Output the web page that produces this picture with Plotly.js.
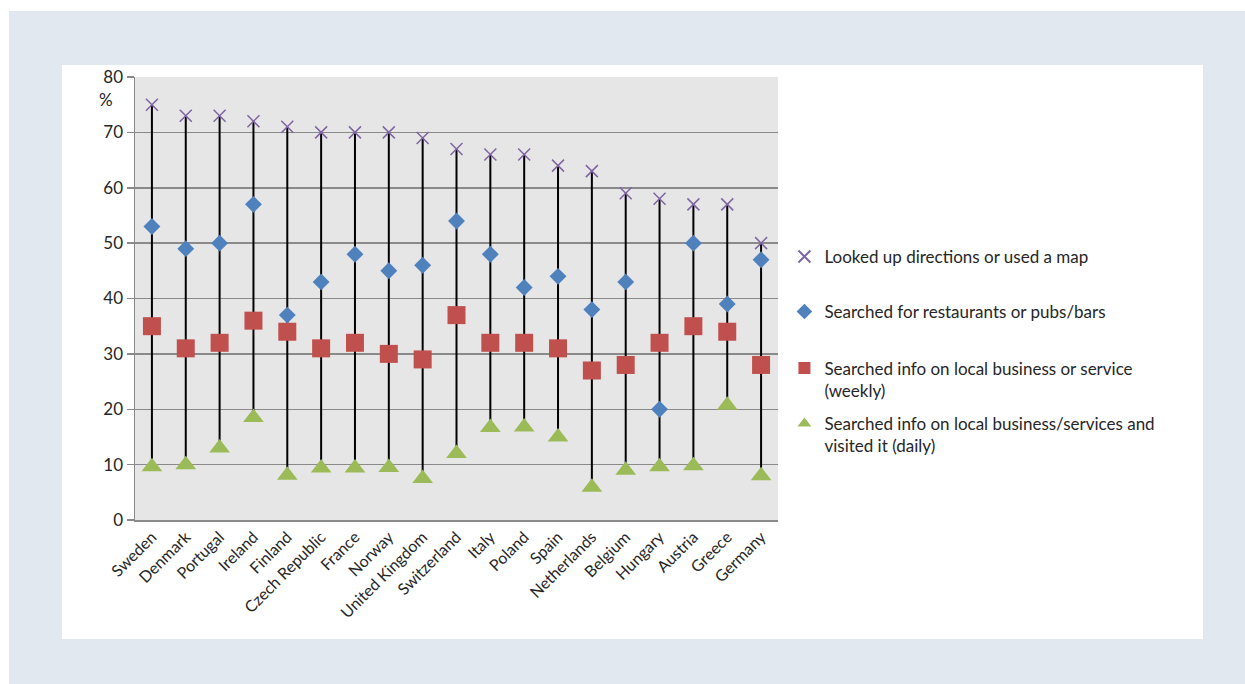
<!DOCTYPE html>
<html>
<head>
<meta charset="utf-8">
<script src="https://cdn.plot.ly/plotly-3.0.1.min.js"></script>
<style>
  html, body { margin: 0; padding: 0; background: #ffffff; }
  #outer { position: absolute; left: 9px; top: 11px; width: 1236px; height: 673px; background: #e1e8f0; }
  #panel { position: absolute; left: 62px; top: 65px; width: 1141px; height: 574px; background: #ffffff; }
  #chart { position: absolute; left: 0; top: 0; width: 1245px; height: 684px; }
</style>
</head>
<body>
<div id="outer"></div>
<div id="panel"></div>
<div id="chart"></div>
<script>
const countries = ["Sweden","Denmark","Portugal","Ireland","Finland","Czech Republic","France","Norway","United Kingdom","Switzerland","Italy","Poland","Spain","Netherlands","Belgium","Hungary","Austria","Greece","Germany"];
const mapDirections = [75,73,73,72,71,70,70,70,69,67,66,66,64,63,59,58,57,57,50];
const restaurants   = [53,49,50,57,37,43,48,45,46,54,48,42,44,38,43,20,50,39,47];
const localWeekly   = [35,31,32,36,34,31,32,30,29,37,32,32,31,27,28,32,35,34,28];
const localVisited  = [9.6,10,13,18.5,8.1,9.4,9.4,9.5,7.5,12,16.7,16.8,15,5.9,9,9.6,9.8,20.7,8];
const seriesNames = [
  "Looked up directions or used a map",
  "Searched for restaurants or pubs/bars",
  "Searched info on local business or service<br>(weekly)",
  "Searched info on local business/services and<br>visited it (daily)"
];

// high-low lines built from the series
const allSeries = [mapDirections, restaurants, localWeekly, localVisited];
const hlX = [], hlY = [];
countries.forEach((c, i) => {
  const vals = allSeries.map(s => s[i]);
  hlX.push(c, c, null);
  hlY.push(Math.max(...vals), Math.min(...vals), null);
});

const font = "Lato, 'Open Sans', sans-serif";
const traces = [
  {x: hlX, y: hlY, type: 'scatter', mode: 'lines', line: {color: '#000000', width: 2}, showlegend: false, hoverinfo: 'skip'},
  {x: countries, y: localVisited, type: 'scatter', mode: 'markers', name: seriesNames[3], legend: 'legend4',
   marker: {symbol: 'triangle-up', size: 18, color: '#9bbb59'}},
  {x: countries, y: localWeekly, type: 'scatter', mode: 'markers', name: seriesNames[2], legend: 'legend3',
   marker: {symbol: 'square', size: 18, color: '#c0504d'}},
  {x: countries, y: restaurants, type: 'scatter', mode: 'markers', name: seriesNames[1], legend: 'legend2',
   marker: {symbol: 'diamond', size: 13, color: '#4f81bd'}},
  {x: countries, y: mapDirections, type: 'scatter', mode: 'markers', name: seriesNames[0], legend: 'legend',
   marker: {symbol: 'x-thin-open', size: 12, color: '#8064a2', line: {color: '#8064a2', width: 1.5}}}
];

function leg(y) {
  return {x: 1.01, xanchor: 'left', y: y, yanchor: 'middle', bgcolor: 'rgba(0,0,0,0)',
          font: {family: font, size: 17, color: '#262626'}, valign: 'top', itemsizing: 'constant'};
}

const layout = {
  width: 1245, height: 684,
  margin: {l: 135, r: 467, t: 77, b: 164},
  paper_bgcolor: 'rgba(0,0,0,0)',
  plot_bgcolor: '#e6e6e6',
  font: {family: font, size: 17, color: '#262626'},
  xaxis: {
    type: 'category', range: [-0.5, 18.5], tickangle: -45, showgrid: false,
    showline: true, linecolor: '#8a8a8a', linewidth: 1.5, ticks: '',
    tickfont: {family: font, size: 16, color: '#262626'}, fixedrange: true
  },
  yaxis: {
    range: [0, 80], dtick: 10, showgrid: true, gridcolor: '#8a8a8a', gridwidth: 1.5,
    showline: true, linecolor: '#8a8a8a', linewidth: 1.5, ticks: 'outside', ticklen: 7,
    tickcolor: '#8a8a8a', tickwidth: 1.5, zeroline: false,
    tickfont: {family: font, size: 17, color: '#262626'}, fixedrange: true
  },
  legend: leg(0.5937),
  legend2: leg(0.4695),
  legend3: leg(0.3172),
  legend4: leg(0.1919),
  annotations: [{
    text: '%', xref: 'paper', yref: 'y', x: -0.045, y: 76, xanchor: 'center', yanchor: 'middle',
    showarrow: false, font: {family: font, size: 17, color: '#262626'}
  }]
};

Plotly.newPlot('chart', traces, layout, {displayModeBar: false, staticPlot: true});
</script>
</body>
</html>
